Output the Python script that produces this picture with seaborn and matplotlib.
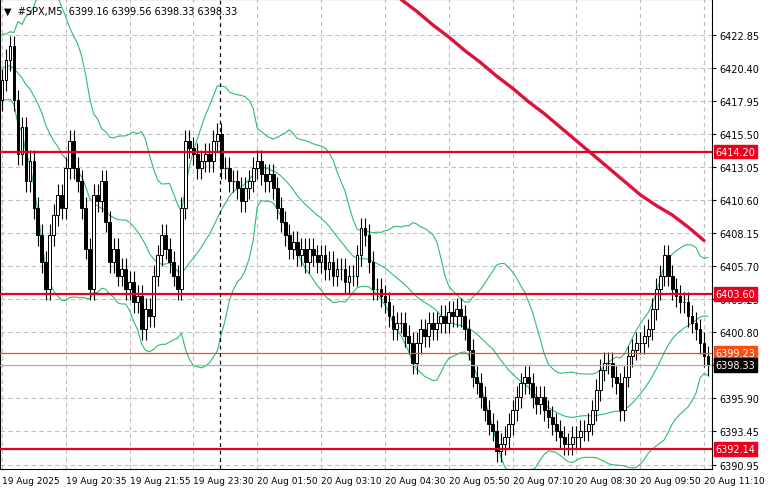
import numpy as np
import pandas as pd
import matplotlib
matplotlib.use("Agg")
import matplotlib.pyplot as plt
import matplotlib.transforms as mtrans
import seaborn as sns

history_closes = [6421, 6420, 6422, 6421, 6423, 6422, 6420, 6421, 6419, 6420,
                  6422, 6421, 6420, 6419, 6421, 6420, 6421, 6419, 6418]
closes = [
    6419.5, 6421.0, 6422.0, 6418.0, 6414.0, 6416.0, 6412.0, 6413.5, 6410.0, 6408.0,
    6406.0, 6404.0, 6408.0, 6409.5, 6411.0, 6410.0, 6413.0, 6415.0, 6413.0, 6412.0,
    6410.0, 6407.0, 6404.0, 6411.0, 6410.5, 6412.0, 6409.0, 6406.0, 6407.0, 6405.0,
    6405.5, 6404.0, 6404.5, 6403.0, 6403.5, 6401.0, 6402.5, 6402.0, 6405.0, 6406.5,
    6408.0, 6407.0, 6406.0, 6405.0, 6404.0, 6410.0, 6415.0, 6414.5, 6414.0, 6413.0,
    6413.5, 6414.0, 6413.5, 6415.0, 6415.5, 6413.0, 6413.0, 6412.0, 6412.0, 6411.5,
    6410.5, 6411.5, 6412.0, 6413.0, 6413.5, 6412.5, 6412.0, 6412.5, 6411.5, 6410.0,
    6409.0, 6408.0, 6407.0, 6407.5, 6406.5, 6407.0, 6406.0, 6407.0, 6406.5, 6406.0,
    6406.5, 6405.5, 6406.0, 6405.0, 6405.5, 6405.5, 6404.5, 6405.0, 6405.0, 6406.5,
    6408.5, 6408.0, 6406.0, 6404.0, 6404.0, 6403.5, 6403.0, 6402.0, 6401.0, 6401.5,
    6401.5, 6400.5, 6400.0, 6398.5, 6400.0, 6401.0, 6400.5, 6401.5, 6401.0, 6401.5,
    6402.0, 6401.5, 6402.3, 6402.0, 6402.5, 6402.0, 6401.0, 6399.5, 6397.5, 6397.0,
    6396.0, 6395.0, 6394.0, 6393.5, 6392.0, 6392.5, 6393.0, 6394.0, 6395.0, 6396.0,
    6397.0, 6397.5, 6397.0, 6396.0, 6395.5, 6396.0, 6395.0, 6394.5, 6394.0, 6393.5,
    6393.0, 6392.5, 6392.5, 6393.0, 6393.0, 6393.5, 6393.5, 6394.0, 6395.0, 6396.5,
    6398.0, 6398.5, 6398.5, 6397.5, 6397.0, 6395.0, 6397.5, 6399.0, 6399.5, 6400.0,
    6400.0, 6400.5, 6401.0, 6402.5, 6404.0, 6405.0, 6406.5, 6405.0, 6404.0, 6403.5,
    6403.0, 6403.0, 6402.0, 6401.5, 6401.0, 6400.0, 6399.0, 6398.33]
first_open = 6418.0
wick = 0.8

ma_idx = [100, 104, 108, 112, 116, 120, 124, 128, 132, 136, 140, 144, 148, 152, 156, 160, 164, 168, 172, 176]
ma_val = [6425.5, 6424.6, 6423.6, 6422.7, 6421.7, 6420.8, 6419.8, 6418.9, 6417.9, 6417.0,
          6416.0, 6415.0, 6414.0, 6413.0, 6412.0, 6411.0, 6410.2, 6409.5, 6408.6, 6407.6]

yticks = [6422.85, 6420.40, 6417.95, 6415.50, 6413.05, 6410.60, 6408.15, 6405.70,
          6403.25, 6400.80, 6398.35, 6395.90, 6393.45, 6390.95]
hidden_ticks = [6398.35]
xtick_labels = ["19 Aug 2025", "19 Aug 20:35", "19 Aug 21:55", "19 Aug 23:30", "20 Aug 01:50",
                "20 Aug 03:10", "20 Aug 04:30", "20 Aug 05:50", "20 Aug 07:10", "20 Aug 08:30",
                "20 Aug 09:50", "20 Aug 11:10"]
levels = [(6414.20, "#e8001c", 1.6), (6403.60, "#e8001c", 1.6), (6392.14, "#e8001c", 1.6),
          (6399.23, "#ff4a10", 0.9), (6398.33, "#b0b0b0", 0.9)]
labels = [(6414.20, "6414.20", "#e8001c"), (6403.60, "6403.60", "#e8001c"),
          (6392.14, "6392.14", "#e8001c"), (6399.23, "6399.23", "#ff4a10"),
          (6398.33, "6398.33", "#000000")]

sns.set_style("white")
plt.rcParams['font.family'] = ['DejaVu Sans']

n = len(closes)
idx = np.arange(n)
opens = [first_open] + closes[:-1]
df = pd.DataFrame({"i": idx, "o": opens, "c": closes})
df["h"] = df[["o", "c"]].max(axis=1) + wick
df["l"] = df[["o", "c"]].min(axis=1) - wick

full = pd.Series(history_closes + closes)
mid = full.rolling(20).mean().iloc[len(history_closes):].values
sd = full.rolling(20).std(ddof=0).iloc[len(history_closes):].values
bb = pd.DataFrame({"i": idx, "mid": mid, "up": mid + 2 * sd, "lo": mid - 2 * sd})

fig = plt.figure(figsize=(7.81, 4.89), dpi=100)
ax = fig.add_axes([0.0, 0.039, 712 / 781, 0.961])

for y in yticks:
    ax.axhline(y, color="#c0c0c0", lw=0.8, ls=(0, (4, 3)), zorder=0)
for k in range(len(xtick_labels)):
    ax.axvline(k * 16, color="#c0c0c0", lw=0.8, ls=(0, (4, 3)), zorder=0)

for col in ["up", "mid", "lo"]:
    sns.lineplot(data=bb, x="i", y=col, ax=ax, color="#2ebc6e", lw=0.8, zorder=2)

ax.vlines(df["i"], df["l"], df["h"], color="black", lw=0.8, zorder=3)
bull = df["c"] >= df["o"]
ax.bar(df["i"][bull], (df["c"] - df["o"])[bull], bottom=df["o"][bull], width=0.7,
       color="white", edgecolor="black", lw=0.7, zorder=4)
ax.bar(df["i"][~bull], (df["o"] - df["c"])[~bull], bottom=df["c"][~bull], width=0.7,
       color="black", edgecolor="black", lw=0.7, zorder=4)

sns.lineplot(x=ma_idx, y=ma_val, ax=ax, color="#dc143c", lw=2.4, zorder=5)

for y, c, w in levels:
    ax.axhline(y, color=c, lw=w, zorder=6)
ax.axvline(54.7, color="black", lw=0.9, ls=(0, (3, 3)), zorder=6)

ax.set_xlim(-0.5, 178)
ax.set_ylim(6390.65, 6425.52)
ax.yaxis.tick_right()
ax.set_yticks(yticks)
ax.set_yticklabels(["" if v in hidden_ticks else f"{v:.2f}" for v in yticks], fontsize=7)
ax.set_xticks([k * 16 for k in range(len(xtick_labels))])
ax.set_xticklabels(xtick_labels, fontsize=6.5, ha="left")
ax.tick_params(axis="both", length=3, pad=2, colors="black")
ax.set_xlabel("")
ax.set_ylabel("")
for s in ax.spines.values():
    s.set_color("black")
    s.set_linewidth(0.8)

tr = mtrans.blended_transform_factory(ax.transAxes, ax.transData)
for y, t, c in labels:
    ax.text(1.005, y, t, transform=tr, fontsize=7, color="white", va="center", ha="left",
            bbox=dict(boxstyle="square,pad=0.2", fc=c, ec=c), zorder=10, clip_on=False)

ax.text(0.005, 0.985, "▼  #SPX,M5  6399.16 6399.56 6398.33 6398.33", transform=ax.transAxes,
        fontsize=7, va="top", ha="left", color="black")

fig.savefig("out.png", dpi=100)
